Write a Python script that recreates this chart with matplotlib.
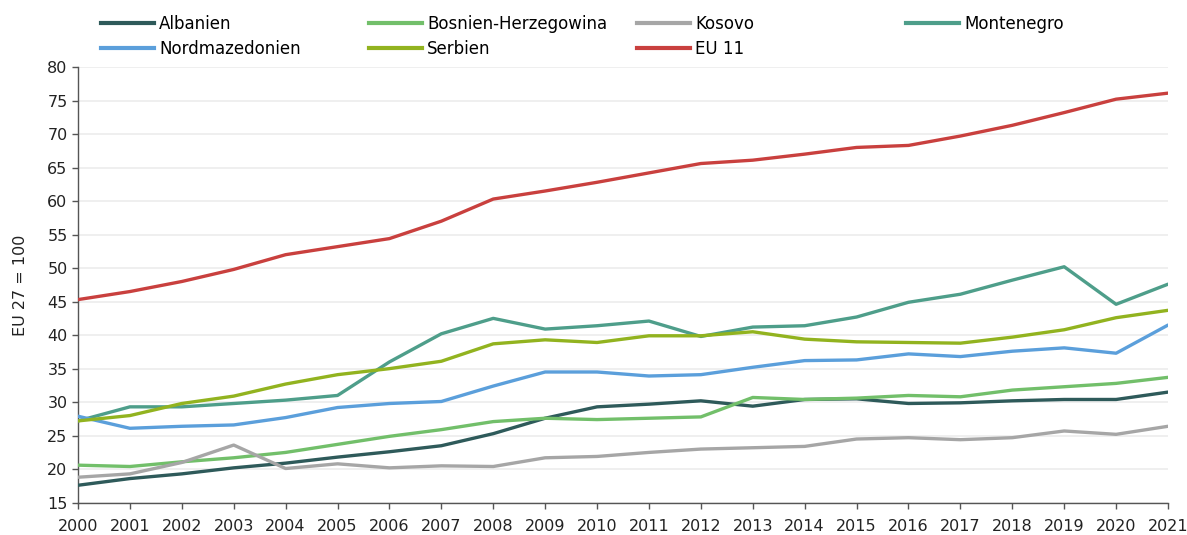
import matplotlib.pyplot as plt
from matplotlib.lines import Line2D

years = list(range(2000, 2022))

albanien = [17.6, 18.6, 19.3, 20.2, 20.9, 21.8, 22.6, 23.5, 25.3, 27.6, 29.3,
            29.7, 30.2, 29.4, 30.4, 30.5, 29.8, 29.9, 30.2, 30.4, 30.4, 31.5]
bosnien = [20.6, 20.4, 21.1, 21.7, 22.5, 23.7, 24.9, 25.9, 27.1, 27.6, 27.4,
           27.6, 27.8, 30.7, 30.4, 30.6, 31.0, 30.8, 31.8, 32.3, 32.8, 33.7]
kosovo = [18.8, 19.3, 21.0, 23.6, 20.1, 20.8, 20.2, 20.5, 20.4, 21.7, 21.9,
          22.5, 23.0, 23.2, 23.4, 24.5, 24.7, 24.4, 24.7, 25.7, 25.2, 26.4]
montenegro = [27.2, 29.3, 29.3, 29.8, 30.3, 31.0, 36.0, 40.2, 42.5, 40.9, 41.4,
              42.1, 39.8, 41.2, 41.4, 42.7, 44.9, 46.1, 48.2, 50.2, 44.6, 47.6]
nordmazedonien = [27.9, 26.1, 26.4, 26.6, 27.7, 29.2, 29.8, 30.1, 32.4, 34.5, 34.5,
                  33.9, 34.1, 35.2, 36.2, 36.3, 37.2, 36.8, 37.6, 38.1, 37.3, 41.5]
serbien = [27.2, 28.0, 29.8, 30.9, 32.7, 34.1, 35.0, 36.1, 38.7, 39.3, 38.9,
           39.9, 39.9, 40.5, 39.4, 39.0, 38.9, 38.8, 39.7, 40.8, 42.6, 43.7]
eu11 = [45.3, 46.5, 48.0, 49.8, 52.0, 53.2, 54.4, 57.0, 60.3, 61.5, 62.8,
        64.2, 65.6, 66.1, 67.0, 68.0, 68.3, 69.7, 71.3, 73.2, 75.2, 76.1]

series = [
    ('Albanien', albanien, '#2e5a5a'),
    ('Bosnien-Herzegowina', bosnien, '#72bf6a'),
    ('Kosovo', kosovo, '#a6a6a6'),
    ('Montenegro', montenegro, '#4e9e8a'),
    ('Nordmazedonien', nordmazedonien, '#5b9fdb'),
    ('Serbien', serbien, '#92b31f'),
    ('EU 11', eu11, '#c9403e'),
]

W, H = 1187, 535
fig = plt.figure(figsize=(W / 100, H / 100), dpi=100)
ax = fig.add_axes([78 / W, 1 - 502.7 / H, (1168 - 78) / W, (502.7 - 67) / H])

handles = {}
for name, vals, col in series:
    line, = ax.plot(years, vals, color=col, lw=2.4, solid_capstyle='round', zorder=3)
    handles[name] = line

ax.set_xlim(2000, 2021)
ax.set_ylim(15, 80)
ax.set_xticks(years)
ax.set_yticks(range(15, 81, 5))
ax.tick_params(labelsize=11.5, colors='#222222', length=4, width=1, color='#555555')
ax.tick_params(axis='x', pad=8)
ax.grid(axis='y', color='#ececec', lw=1.2, zorder=0)
for s in ['top', 'right']:
    ax.spines[s].set_visible(False)
for s in ['left', 'bottom']:
    ax.spines[s].set_color('#555555')
    ax.spines[s].set_linewidth(1)
ax.set_ylabel('EU 27 = 100', fontsize=11.5, color='#222222', labelpad=14)

# legend: four columns placed at fixed spacing like the original
columns = [['Albanien', 'Nordmazedonien'], ['Bosnien-Herzegowina', 'Serbien'],
           ['Kosovo', 'EU 11'], ['Montenegro']]
col_x = [101, 369, 637, 906]
for names, x in zip(columns, col_x):
    hs = [Line2D([], [], color=handles[n].get_color(), lw=3) for n in names]
    fig.legend(hs, names, loc='upper left', bbox_to_anchor=(x / W, 1 - 15 / H),
               frameon=False, fontsize=12, handlelength=3.2, handletextpad=0.3,
               labelspacing=0.42, borderpad=0, borderaxespad=0)

fig.savefig('out.png', dpi=100)
